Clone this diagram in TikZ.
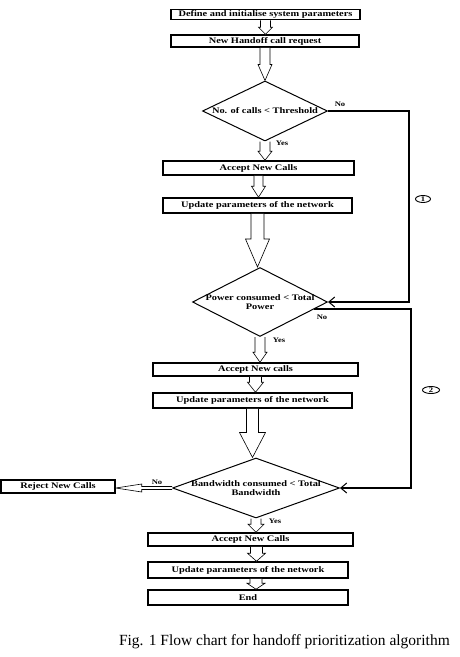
\documentclass[tikz,border=0pt]{standalone}
\usepackage{fontspec}
\setmainfont{Liberation Serif}
\newfontfamily\bxf{Liberation Serif}[FakeStretch=1.22]
\newcommand\bx{\bxf\bfseries\fontsize{8.5}{8.5}\selectfont}
\newcommand\lb{\bxf\bfseries\fontsize{7}{8}\selectfont}
\usetikzlibrary{shapes.geometric,calc,arrows.meta}
\tikzset{
  box/.style={draw, line width=1.5pt, inner sep=0pt, fill=white, font=\bx},
  dia/.style={diamond, draw, line width=1pt, inner sep=0pt, align=center, font=\bx},
  harrow/.style={draw, line width=0.6pt, fill=white, line join=miter},
  fb/.style={line width=1.7pt},
  lbl/.style={font=\lb, inner sep=0pt},
  circ/.style={ellipse, draw, line width=0.9pt, inner sep=0pt, font=\lb},
}
\newcommand\hdown[5]{\path[harrow] let \p1=(#1), \p2=(#2) in
  (\x1-#3,\y1) -- (\x1-#3,\y2+#5) -- (\x1-#4,\y2+#5) -- (\x1,\y2) --
  (\x1+#4,\y2+#5) -- (\x1+#3,\y2+#5) -- (\x1+#3,\y1);}
\newcommand\hleft[5]{\path[harrow] let \p1=(#1), \p2=(#2) in
  (\x1,\y1+#3) -- (\x2+#5,\y1+#3) -- (\x2+#5,\y1+#4) -- (\x2,\y1) --
  (\x2+#5,\y1-#4) -- (\x2+#5,\y1-#3) -- (\x1,\y1-#3);}
\begin{document}
\begin{tikzpicture}[x=1pt,y=-1pt]
\path[fill=white] (0,0) rectangle (459,657);
\useasboundingbox (0,0) rectangle (459,657);

% boxes
\node[box, minimum width=189pt, minimum height=10pt] (b1) at (265.5,14.5) {Define and initialise system parameters};
\node[box, minimum width=188pt, minimum height=12pt] (b2) at (265,41) {New Handoff call request};
\node[dia, aspect=2.08, inner sep=-2pt, minimum width=125pt, minimum height=60pt] (d1) at (265,111) {No. of calls < Threshold};
\node[box, minimum width=191pt, minimum height=14pt] (acc1) at (258.5,168) {Accept New Calls};
\node[box, minimum width=189pt, minimum height=15pt] (upd1) at (257.5,205.5) {Update parameters of the network};
\node[dia, aspect=1.96, inner sep=-3pt, minimum width=135pt, minimum height=69pt] (d2) at (260,302) {Power consumed < Total\\Power};
\node[box, minimum width=205pt, minimum height=13pt] (acc2) at (255.5,369.5) {Accept New calls};
\node[box, minimum width=199pt, minimum height=15pt] (upd2) at (252.5,400.5) {Update parameters of the network};
\node[dia, aspect=2.78, inner sep=-4pt, minimum width=167pt, minimum height=60pt] (d3) at (256,488) {Bandwidth consumed < Total\\Bandwidth};
\node[box, minimum width=114pt, minimum height=13pt] (rej) at (58,486.5) {Reject New Calls};
\node[box, minimum width=205pt, minimum height=13pt] (acc3) at (250.5,539.5) {Accept New Calls};
\node[box, minimum width=200pt, minimum height=16pt] (upd3) at (248,570) {Update parameters of the network};
\node[box, minimum width=200pt, minimum height=15pt] (end) at (248,597.5) {End};

% hollow arrows
\hdown{b1.south}{b2.north}{5pt}{7pt}{7pt}
\hdown{b2.south}{d1.north}{5pt}{7pt}{16pt}
\hdown{d1.south}{acc1.north}{5pt}{7pt}{9pt}
\hdown{acc1.south}{upd1.north}{4.5pt}{7pt}{11pt}
\hdown{upd1.south}{d2.north}{6.5pt}{12pt}{28pt}
\hdown{d2.south}{acc2.north}{5pt}{7pt}{10pt}
\hdown{acc2.south}{upd2.north}{6pt}{8pt}{10pt}
\hdown{upd2.south}{d3.north}{6pt}{13pt}{25pt}
\hdown{d3.south}{acc3.north}{5pt}{8pt}{8pt}
\hdown{$(acc3.south)+(6,0)$}{upd3.north}{6pt}{9pt}{8pt}
\hdown{$(upd3.south)+(8,0)$}{end.north}{6pt}{9pt}{6pt}
\hleft{d3.west}{rej.east}{1.5pt}{4pt}{26pt}

% feedback lines
\coordinate (c1) at (409,0);
\coordinate (c2) at (411,0);
\coordinate (s2) at ($(d2.east)!0.2!(d2.south)$);
\draw[fb,-{Straight Barb[line width=1pt,length=6pt,width=10pt]}] (d1.east) -- (d1.east -| c1) -- (d2.east -| c1) -- (d2.east);
\draw[fb,-{Straight Barb[line width=1pt,length=6pt,width=10pt]}] (s2) -- (s2 -| c2) -- (d3.east -| c2) -- (d3.east);

% circled numbers
\node[circ, minimum width=15pt, minimum height=7pt] (n1) at (423,199) {1};
\node[circ, minimum width=17pt, minimum height=7pt] (n2) at (431,390) {2};

% labels
\node[lbl] (no1) at (340,104) {No};
\node[lbl] (yes1) at (282,143) {Yes};
\node[lbl] (no2) at (322,317) {No};
\node[lbl] (yes2) at (279,340) {Yes};
\node[lbl] (no3) at (157,482) {No};
\node[lbl] (yes3) at (275,521) {Yes};

% caption
\node[font=\fontsize{15.5}{18}\selectfont, anchor=base east, inner sep=0pt] (cap) at (450,645) {Fig. 1 Flow chart for handoff prioritization algorithm};
\end{tikzpicture}
\end{document}
